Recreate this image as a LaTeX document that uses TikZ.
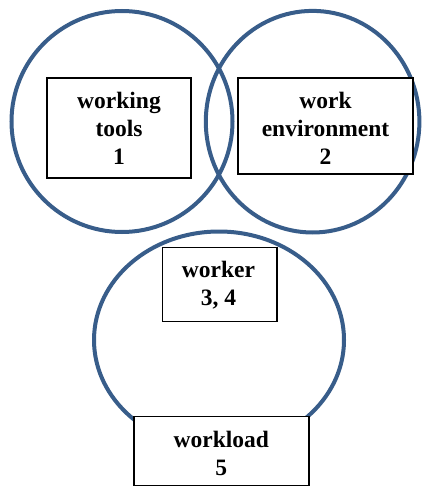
\documentclass[tikz,border=0pt]{standalone}
\usepackage{fontspec}
\setmainfont{Liberation Serif}
\definecolor{ringblue}{RGB}{56,93,138}
\begin{document}
\begin{tikzpicture}[x=1pt,y=-1pt,
  ring/.style={draw=ringblue, line width=4pt},
  box/.style={draw=black, line width=1.6pt, fill=white, inner sep=0pt, rectangle},
  boxtext/.style={font=\bfseries\fontsize{23.5}{27.8}\selectfont, align=center, inner sep=0pt}]
\useasboundingbox (0,0) rectangle (422,486);
% rings
\draw[ring] (122,121.5) ellipse [x radius=110.5, y radius=110.5];
\draw[ring] (312.6,121.7) ellipse [x radius=106.8, y radius=110.8];
\draw[ring] (219,340) ellipse [x radius=125, y radius=108.5];
% boxes
\node[box, minimum width=144pt, minimum height=100pt] (b1) at (119,128) {};
\node[box, minimum width=175pt, minimum height=96pt] (b2) at (325.5,126) {};
\node[box, minimum width=114.5pt, minimum height=74pt] (b3) at (219.75,284.5) {};
\node[box, minimum width=175pt, minimum height=69.5pt] (b4) at (221.5,451.25) {};
% texts
\node[boxtext] (t1) at (119,128.3) {working\\tools\\1};
\node[boxtext] (t2) at (325.5,128.3) {work\\environment\\2};
\node[boxtext] (t3) at (218.5,285.5) {worker\\3, 4};
\node[boxtext] (t4) at (221.3,453.2) {workload\\5};
\end{tikzpicture}
\end{document}
